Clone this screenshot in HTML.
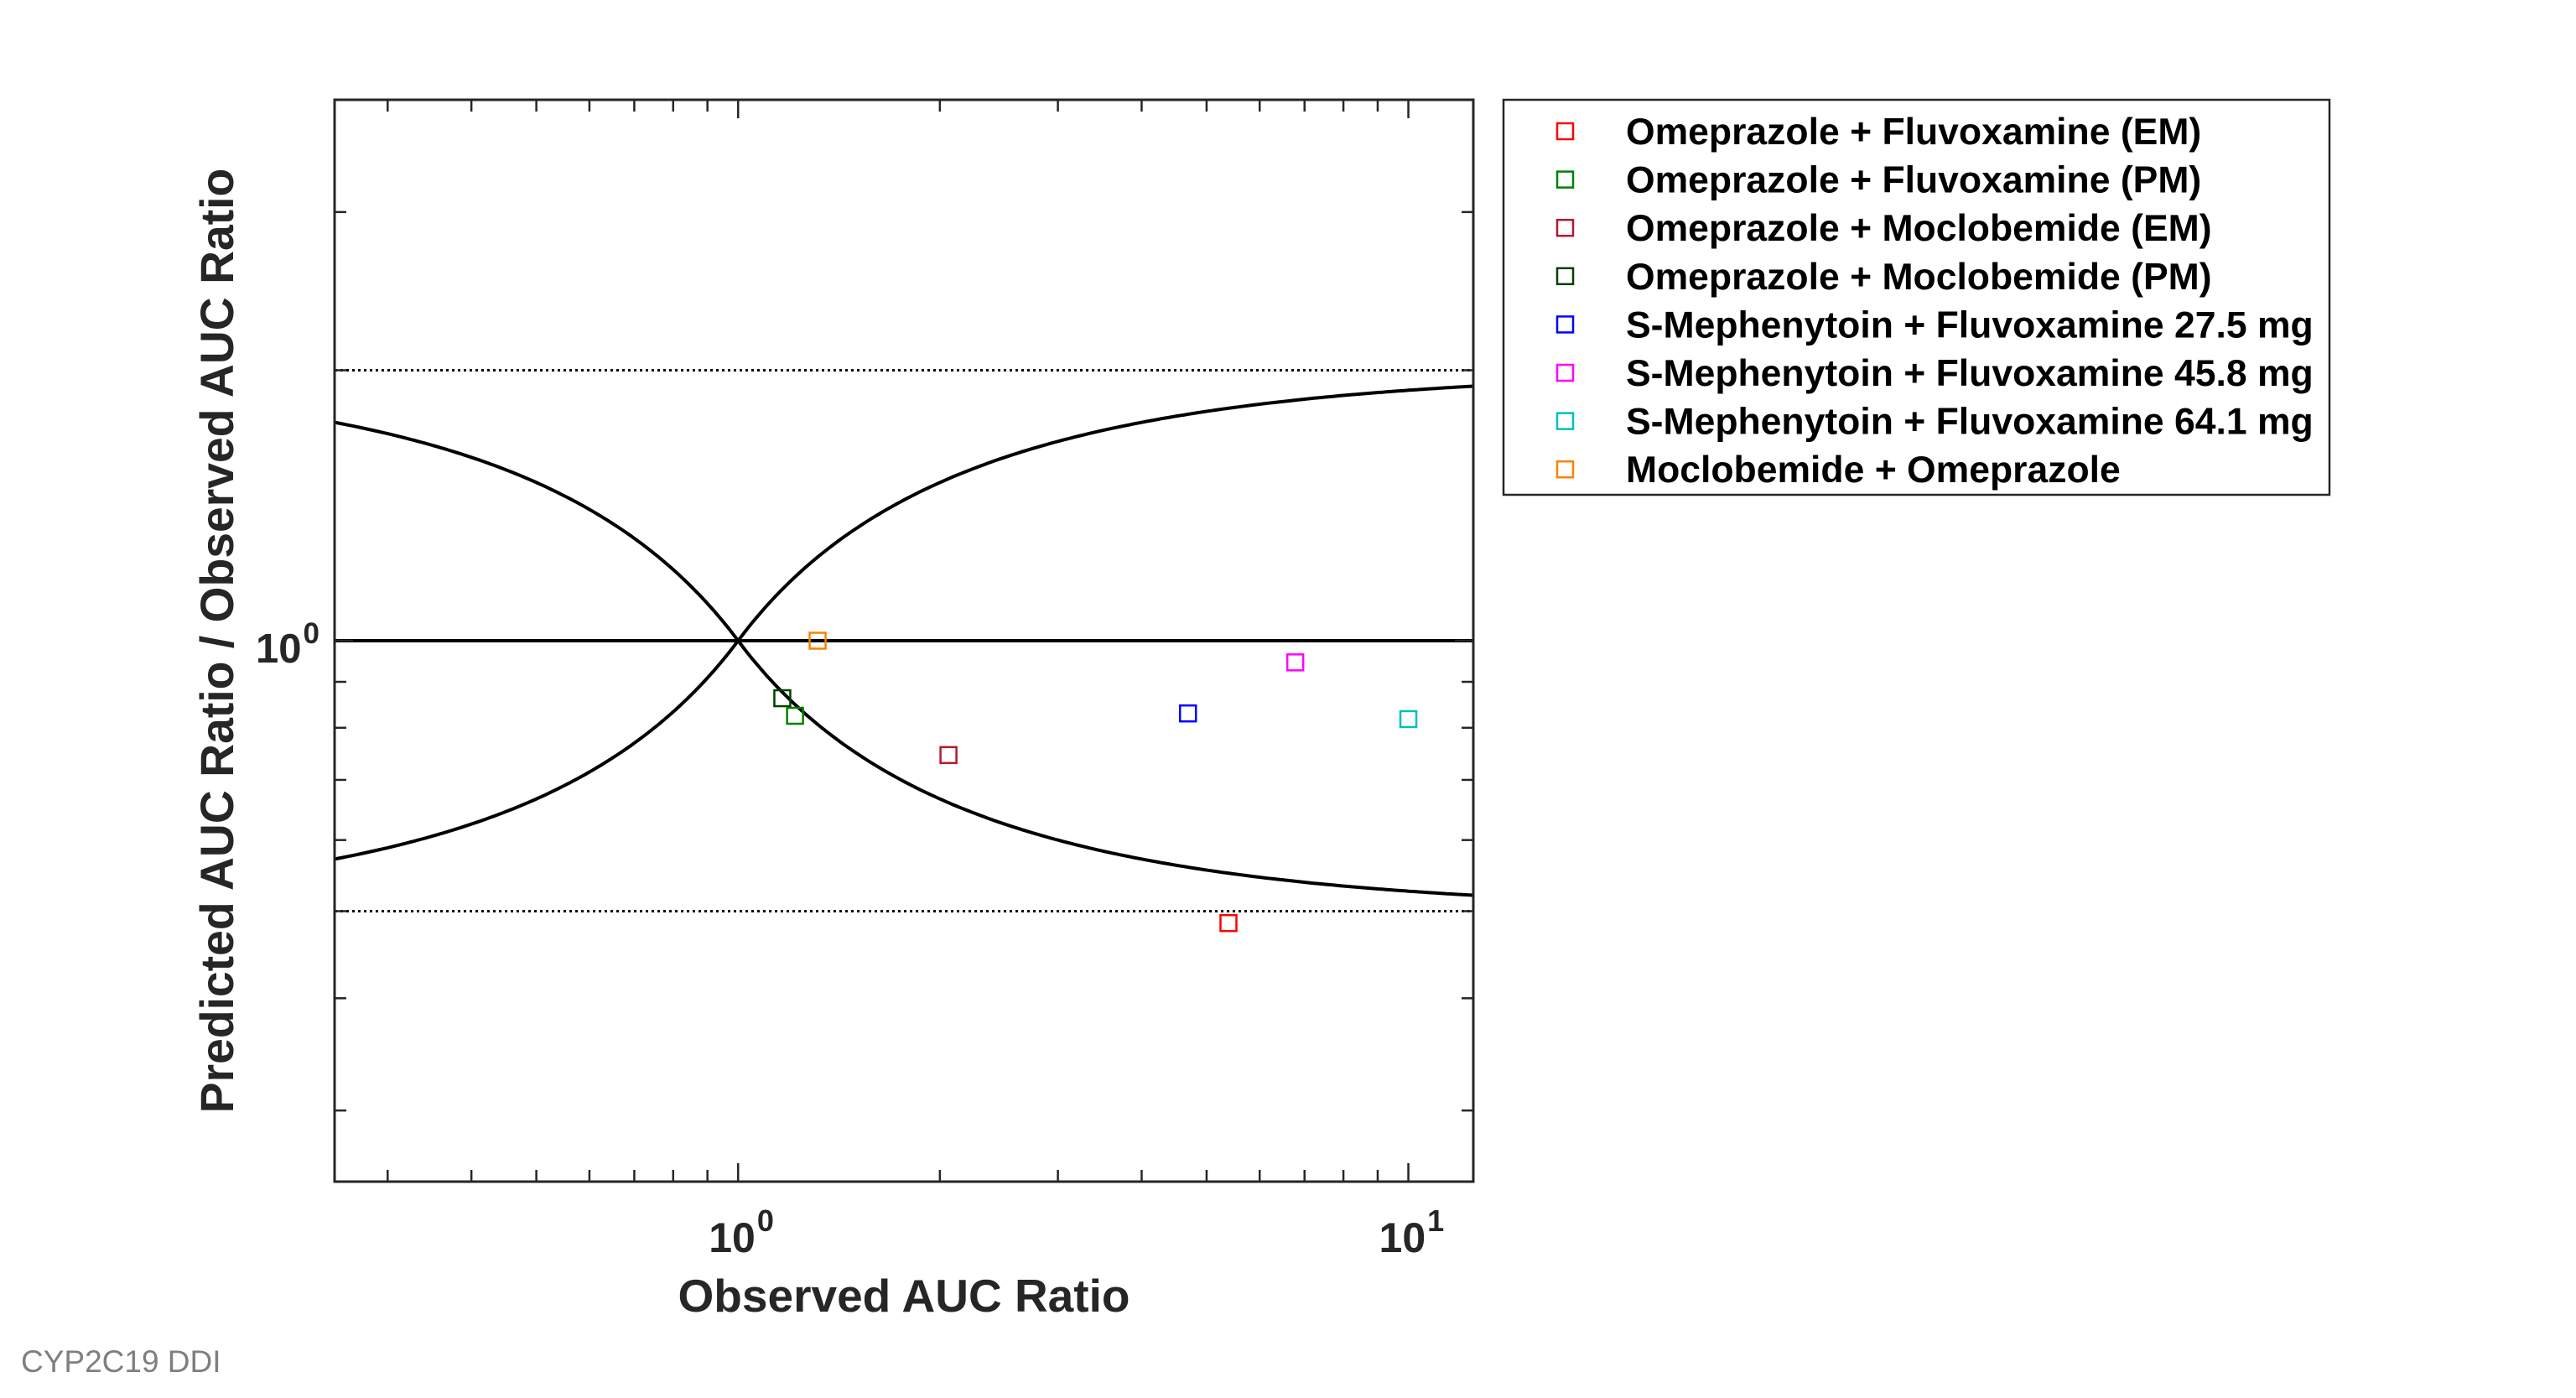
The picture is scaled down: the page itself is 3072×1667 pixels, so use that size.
<!DOCTYPE html>
<html><head><meta charset="utf-8"><style>
html,body{margin:0;padding:0;background:#fff;}
svg{display:block;font-family:"Liberation Sans",Arial,sans-serif;}
</style></head><body>
<svg id="chart" width="3072" height="1667" viewBox="0 0 3072 1667" xmlns="http://www.w3.org/2000/svg">
<rect x="0" y="0" width="3072" height="1667" fill="#fff"/>
<g id="plot"></g>
<g id="legend"></g>
<text x="1078" y="1564" text-anchor="middle" font-size="55" font-weight="bold" fill="#262626">Observed AUC Ratio</text>
<text transform="translate(278,764) rotate(-90)" text-anchor="middle" font-size="55.3" font-weight="bold" fill="#262626">Predicted AUC Ratio / Observed AUC Ratio</text>
<text x="25" y="1636" font-size="37" fill="#7f7f7f">CYP2C19 DDI</text>
</svg>
<script>
const seriesNames = ["Omeprazole + Fluvoxamine (EM)","Omeprazole + Fluvoxamine (PM)","Omeprazole + Moclobemide (EM)","Omeprazole + Moclobemide (PM)","S-Mephenytoin + Fluvoxamine 27.5 mg","S-Mephenytoin + Fluvoxamine 45.8 mg","S-Mephenytoin + Fluvoxamine 64.1 mg","Moclobemide + Omeprazole"];
const seriesColors = ["#ff0000","#008000","#b8172e","#004000","#0000ff","#ff00ff","#00bfbf","#ff8000"];
const observedValues = [5.39,1.216,2.06,1.164,4.69,6.78,10.0,1.314];
const predObsValues = [0.485,0.825,0.746,0.863,0.830,0.946,0.818,1.0];
const xDomain = [0.25,12.5];
const yDomain = [0.25,4];
const xMajorTicks = [1,10];
const xMinorTicks = [0.3,0.4,0.5,0.6,0.7,0.8,0.9,2,3,4,5,6,7,8,9];
const yMajorTicks = [1];
const yMinorTicks = [0.3,0.4,0.5,0.6,0.7,0.8,0.9,2,3];
const xTickExp = ["0","1"];
const yTickExp = ["0"];
const limitDelta = 2;

const NS="http://www.w3.org/2000/svg";
const L=399,R=1757,T=119,B=1409;
function sx(v){return L+(Math.log10(v)-Math.log10(xDomain[0]))/(Math.log10(xDomain[1])-Math.log10(xDomain[0]))*(R-L);}
function sy(v){return B-(Math.log10(v)-Math.log10(yDomain[0]))/(Math.log10(yDomain[1])-Math.log10(yDomain[0]))*(B-T);}
function mk(tag,attrs,parent){const e=document.createElementNS(NS,tag);for(const k in attrs)e.setAttribute(k,attrs[k]);parent.appendChild(e);return e;}
const plot=document.getElementById('plot');
const legend=document.getElementById('legend');

function upper(r){const q=r>=1?r:1/r;return (limitDelta*(q-1)+1)/q;}
let up="",lo="";
for(let i=0;i<=300;i++){
  const lr=Math.log10(xDomain[0])+i/300*(Math.log10(xDomain[1])-Math.log10(xDomain[0]));
  const r=Math.pow(10,lr);
  const u=r>=1?upper(r):1/upper(r);
  const l=1/u;
  up+=(i?"L":"M")+sx(r).toFixed(1)+","+sy(u).toFixed(1);
  lo+=(i?"L":"M")+sx(r).toFixed(1)+","+sy(l).toFixed(1);
}
let p=mk('path',{d:up,fill:'none',stroke:'#000','stroke-width':4},plot);


p=mk('path',{d:lo,fill:'none',stroke:'#000','stroke-width':4},plot);


p=mk('line',{x1:L,x2:R,y1:sy(1),y2:sy(1),stroke:'#000','stroke-width':4},plot);


p=mk('line',{x1:L,x2:R,y1:sy(2),y2:sy(2),stroke:'#000','stroke-width':3,'stroke-dasharray':'3 4'},plot);


p=mk('line',{x1:L,x2:R,y1:sy(0.5),y2:sy(0.5),stroke:'#000','stroke-width':3,'stroke-dasharray':'3 4'},plot);



const tc='#262626';
xMajorTicks.concat(xMinorTicks).forEach((v,i)=>{
  const len=i<xMajorTicks.length?22:14;
  let t=mk('line',{x1:sx(v),x2:sx(v),y1:B,y2:B-len,stroke:tc,'stroke-width':2.5},plot);
  
  
  t=mk('line',{x1:sx(v),x2:sx(v),y1:T,y2:T+len,stroke:tc,'stroke-width':2.5},plot);
  
  
});
yMajorTicks.concat(yMinorTicks).forEach((v,i)=>{
  const len=i<yMajorTicks.length?22:14;
  let t=mk('line',{x1:L,x2:L+len,y1:sy(v),y2:sy(v),stroke:tc,'stroke-width':2.5},plot);
  
  
  t=mk('line',{x1:R,x2:R-len,y1:sy(v),y2:sy(v),stroke:tc,'stroke-width':2.5},plot);
  
  
});
xMajorTicks.forEach((v,i)=>{
  const t=mk('text',{x:sx(v)-35,y:1493,'font-size':50,'font-weight':'bold',fill:tc},plot);
  
  
  t.textContent="10";
  const s=mk('tspan',{dy:-25,dx:2,'font-size':36},t);s.textContent=xTickExp[i];
});
yMajorTicks.forEach((v,i)=>{
  const t=mk('text',{x:305,y:sy(v)+26,'font-size':49,'font-weight':'bold',fill:tc},plot);
  
  
  t.textContent="10";
  const s=mk('tspan',{dy:-23,dx:2,'font-size':35},t);s.textContent=yTickExp[i];
});
p=mk('rect',{x:L,y:T,width:R-L,height:B-T,fill:'none',stroke:tc,'stroke-width':3},plot);



observedValues.forEach((xv,i)=>{
  const m=mk('rect',{x:sx(xv)-9.5,y:sy(predObsValues[i])-9.5,width:19,height:19,fill:'none',stroke:seriesColors[i],'stroke-width':2.5},plot);
  
  
});

p=mk('rect',{x:1793,y:119,width:985,height:471,fill:'#fff',stroke:tc,'stroke-width':2.5},legend);


seriesNames.forEach((n,i)=>{
  const base=172+i*57.6;
  const m=mk('rect',{x:1857,y:base-25,width:19,height:19,fill:'none',stroke:seriesColors[i],'stroke-width':2.5},legend);
  
  
  const t=mk('text',{x:1939,y:base,'font-size':44.5,'font-weight':'bold',fill:'#000'},legend);
  
  
  t.textContent=n;
});
</script>
</body></html>
